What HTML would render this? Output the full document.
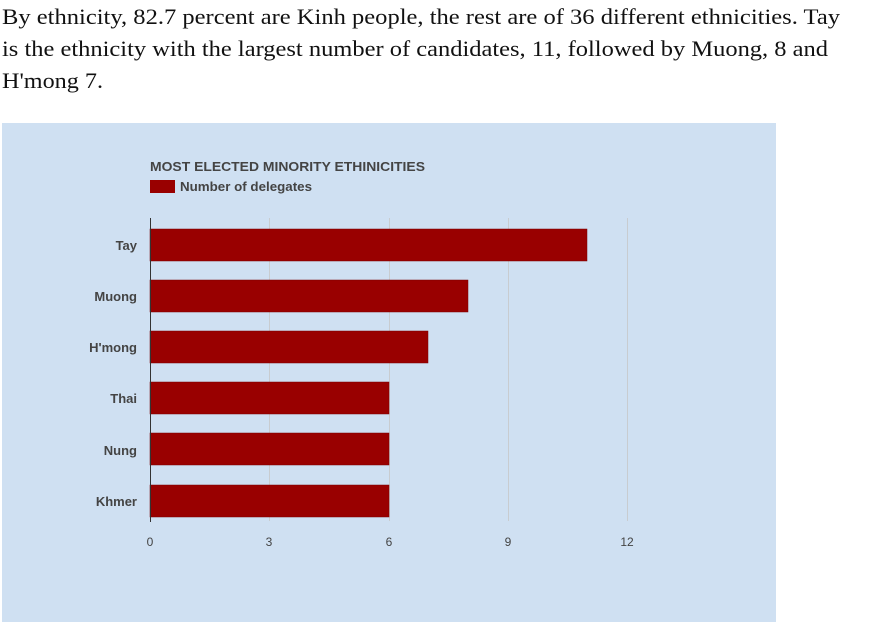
<!DOCTYPE html>
<html><head><style>html,body{margin:0;padding:0;background:#fff;width:870px;height:627px;overflow:hidden}</style></head>
<body>
<svg width="870" height="627" xmlns="http://www.w3.org/2000/svg" style="display:block">
<g font-family="Georgia, 'Liberation Serif', serif" font-size="22" fill="#111">
<text x="2" y="24" textLength="838" lengthAdjust="spacingAndGlyphs">By ethnicity, 82.7 percent are Kinh people, the rest are of 36 different ethnicities. Tay</text>
<text x="2" y="56" textLength="826" lengthAdjust="spacingAndGlyphs">is the ethnicity with the largest number of candidates, 11, followed by Muong, 8 and</text>
<text x="2" y="88" textLength="101" lengthAdjust="spacingAndGlyphs">H'mong 7.</text>
</g>
<rect x="2" y="123" width="774" height="499" fill="#cfe0f2"/>
<g stroke="#c8ccd0" stroke-width="1">
<line x1="269.5" y1="218" x2="269.5" y2="521"/>
<line x1="389.5" y1="218" x2="389.5" y2="521"/>
<line x1="508.5" y1="218" x2="508.5" y2="521"/>
<line x1="627.5" y1="218" x2="627.5" y2="521"/>
</g>
<g fill="#990000" stroke="#7a0000" stroke-width="0.5">
<rect x="150" y="229" width="437" height="32"/>
<rect x="150" y="280" width="318" height="32"/>
<rect x="150" y="331" width="278" height="32"/>
<rect x="150" y="382" width="239" height="32"/>
<rect x="150" y="433" width="239" height="32"/>
<rect x="150" y="485" width="239" height="32"/>
</g>
<line x1="150.5" y1="218" x2="150.5" y2="522" stroke="#333" stroke-width="1"/>
<g font-family="'Liberation Sans', Arial, sans-serif" fill="#444">
<text x="150" y="171" font-size="13" font-weight="bold" textLength="275" lengthAdjust="spacingAndGlyphs">MOST ELECTED MINORITY ETHINICITIES</text>
<rect x="150" y="180" width="25" height="13" fill="#990000"/>
<text x="180" y="191" font-size="13" font-weight="bold" textLength="132" lengthAdjust="spacingAndGlyphs">Number of delegates</text>
<g font-size="13" font-weight="bold" text-anchor="end">
<text x="137" y="250">Tay</text>
<text x="137" y="301">Muong</text>
<text x="137" y="352">H'mong</text>
<text x="137" y="403">Thai</text>
<text x="137" y="455">Nung</text>
<text x="137" y="506">Khmer</text>
</g>
<g font-size="12" text-anchor="middle">
<text x="150" y="546">0</text>
<text x="269" y="546">3</text>
<text x="389" y="546">6</text>
<text x="508" y="546">9</text>
<text x="627" y="546">12</text>
</g>
</g>
</svg>
</body></html>
